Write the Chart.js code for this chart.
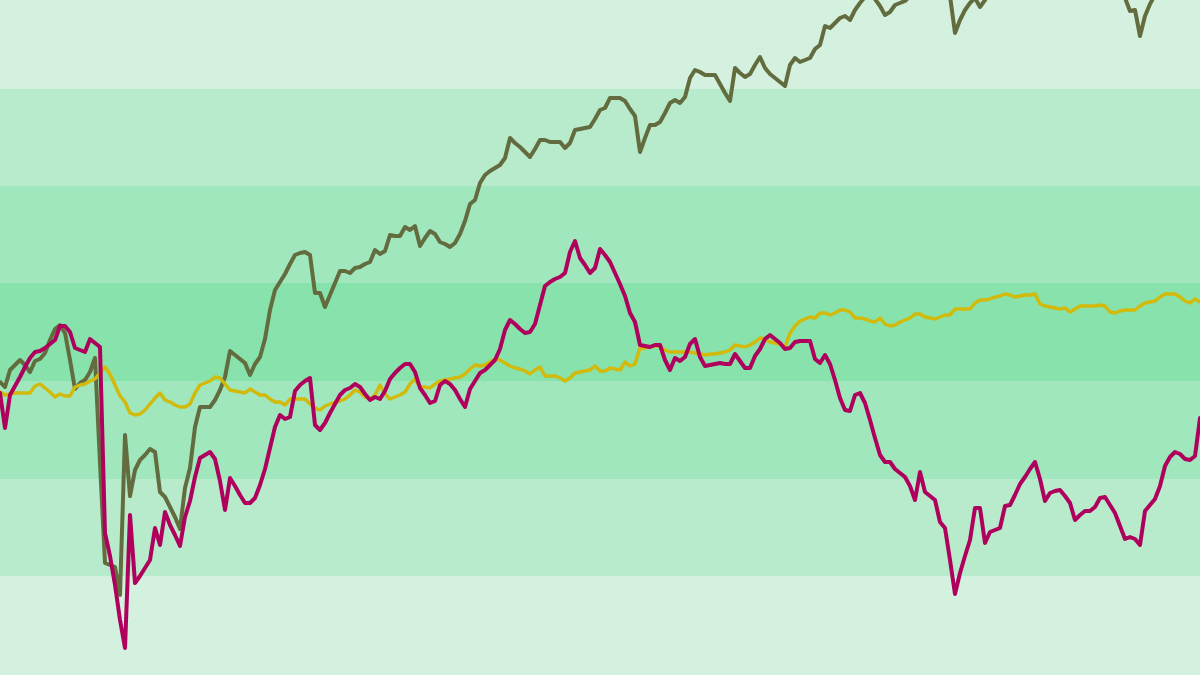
<!DOCTYPE html>
<html>
<head>
<meta charset="utf-8">
<script src="https://cdn.jsdelivr.net/npm/chart.js@4"></script>
<style>
  html, body { margin: 0; padding: 0; background: #d4f0de; }
  #wrap { width: 1200px; height: 675px; position: relative; }
</style>
</head>
<body>
<div id="wrap"><canvas id="lineChart"></canvas></div>
<script>
// cumulative change, one value per trading day
const olive = [
  0.8, 0.3, 2.0, 2.5, 3.0, 2.5, 1.8, 2.9, 3.1, 3.7,
  5.0, 6.1, 6.5, 5.7, 3.0, 0.1, 0.7, 1.0, 1.8, 3.2,
  -7.3, -17.3, -17.5, -17.7, -20.5, -4.5, -10.6, -8.0, -7.0, -6.5,
  -5.9, -6.2, -10.2, -10.7, -11.7, -12.7, -13.9, -9.8, -7.8, -3.7,
  -1.7, -1.7, -1.7, -1.0, 0.0, 1.3, 3.9, 3.5, 3.1, 2.7,
  1.5, 2.6, 3.3, 5.1, 8.0, 10.0, 10.8, 11.6, 12.6, 13.5,
  13.7, 13.8, 13.5, 9.7, 9.7, 8.3, 9.5, 10.7, 11.9, 11.9,
  11.7, 12.2, 12.3, 12.6, 12.8, 14.0, 13.6, 13.9, 15.5, 15.4,
  15.4, 16.3, 16.0, 16.4, 14.4, 15.2, 15.9, 15.6, 14.8, 14.6,
  14.3, 14.7, 15.6, 16.9, 18.6, 19.0, 20.7, 21.5, 21.9, 22.2,
  22.5, 23.2, 25.2, 24.7, 24.3, 23.8, 23.3, 24.1, 25.0, 25.0,
  24.8, 24.8, 24.8, 24.2, 24.7, 26.0, 26.1, 26.2, 26.3, 27.1,
  28.0, 28.2, 29.2, 29.2, 29.2, 28.9, 28.1, 27.4, 23.8, 25.2,
  26.5, 26.5, 26.8, 27.7, 28.7, 29.0, 28.7, 29.3, 31.2, 32.0,
  31.8, 31.5, 31.5, 31.5, 30.6, 29.7, 28.9, 32.2, 31.7, 31.3,
  31.6, 32.5, 33.3, 32.2, 31.6, 31.2, 30.8, 30.4, 32.5, 33.2,
  32.8, 33.0, 33.2, 34.1, 34.5, 36.4, 36.2, 36.7, 37.2, 37.4,
  37.0, 38.0, 38.7, 39.3, 39.8, 39.1, 38.4, 37.5, 37.8, 38.5,
  38.7, 38.9, 39.4, 40.0, 40.5, 41.0, 41.5, 41.2, 40.8, 40.5,
  39.4, 35.7, 37.0, 38.0, 38.7, 39.2, 38.3, 39.0, 40.0, 41.0,
  41.5, 42.0, 42.4, 42.7, 43.0, 43.2, 43.5, 43.4, 43.6, 43.8,
  44.0, 43.9, 43.7, 43.5, 43.2, 43.0, 42.8, 42.5, 42.1, 41.7,
  41.3, 40.8, 40.3, 39.9, 39.5, 39.2, 37.9, 38.0, 35.4, 37.4,
  38.6, 39.5, 40.2, 40.6, 41.0, 41.4, 41.7, 42.0, 42.3, 42.6,
  43.0
];

const magenta = [
  -0.3, -3.8, -0.5, 0.4, 1.3, 2.3, 3.2, 3.8, 3.9, 4.2,
  4.6, 5.0, 6.4, 6.4, 5.8, 4.2, 4.0, 3.8, 5.1, 4.7,
  4.3, -14.3, -16.6, -19.5, -23.0, -25.8, -12.5, -19.3, -18.6, -17.8,
  -17.0, -13.8, -15.5, -12.2, -13.5, -14.5, -15.6, -12.7, -11.1, -8.7,
  -6.8, -6.5, -6.2, -6.9, -9.1, -12.0, -8.8, -9.6, -10.5, -11.3,
  -11.3, -10.8, -9.5, -7.9, -5.8, -3.7, -2.5, -2.9, -2.7, -0.1,
  0.5, 0.9, 1.2, -3.5, -4.0, -3.3, -2.3, -1.4, -0.5, 0.0,
  0.2, 0.6, 0.3, -0.4, -1.0, -0.7, -0.9, -0.1, 1.1, 1.7,
  2.2, 2.6, 2.6, 1.8, 0.2, -0.5, -1.3, -1.1, 0.5, 0.9,
  0.6, 0.0, -0.9, -1.7, 0.1, 0.9, 1.7, 2.0, 2.5, 3.0,
  4.1, 6.0, 7.0, 6.6, 6.1, 5.7, 5.8, 6.6, 8.5, 10.4,
  10.8, 11.1, 11.3, 11.7, 13.8, 14.9, 13.2, 12.5, 11.7, 12.2,
  14.1, 13.5, 12.8, 11.7, 10.6, 9.4, 7.7, 6.8, 4.5, 4.4,
  4.3, 4.5, 4.5, 3.0, 2.0, 3.2, 2.9, 3.3, 4.6, 5.1,
  3.3, 2.4, 2.5, 2.6, 2.7, 2.6, 2.6, 3.6, 2.9, 2.2,
  2.2, 3.4, 4.1, 5.1, 5.5, 5.1, 4.7, 4.1, 4.2, 4.8,
  4.9, 4.9, 4.9, 3.1, 2.7, 3.5, 2.6, 1.0, -0.8, -2.0,
  -2.1, -0.5, -0.3, -1.3, -3.0, -4.8, -6.5, -7.2, -7.2, -7.9,
  -8.3, -8.7, -9.6, -11.0, -8.2, -10.2, -10.6, -11.0, -13.2, -13.8,
  -17.0, -20.4, -18.3, -16.6, -15.0, -11.8, -11.8, -15.3, -14.2, -14.0,
  -13.8, -11.6, -11.5, -10.5, -9.4, -8.7, -7.9, -7.2, -8.9, -11.1,
  -10.3, -10.1, -10.0, -10.6, -11.3, -13.0, -12.5, -12.1, -12.1, -11.7,
  -10.8, -10.7, -11.5, -12.3, -13.6, -14.9, -14.7, -14.9, -15.5, -12.1,
  -11.5, -10.9, -9.6, -7.6, -6.7, -6.2, -6.4, -6.9, -7.0, -6.6,
  -2.8
];

const yellow = [
  -0.2, -0.5, -0.4, -0.3, -0.3, -0.3, -0.3, 0.4, 0.6, 0.2,
  -0.2, -0.7, -0.4, -0.6, -0.6, 0.3, 0.5, 0.6, 0.9, 1.1,
  1.7, 2.3, 1.6, 0.5, -0.6, -1.2, -2.3, -2.5, -2.4, -2.0,
  -1.4, -0.8, -0.3, -1.0, -1.2, -1.5, -1.7, -1.7, -1.4, -0.3,
  0.5, 0.7, 0.9, 1.3, 1.2, 0.6, 0.0, -0.1, -0.2, -0.3,
  0.1, -0.2, -0.5, -0.5, -0.9, -1.2, -1.2, -1.5, -0.9, -0.9,
  -0.9, -0.9, -1.4, -1.8, -2.0, -1.6, -1.4, -1.2, -1.1, -0.9,
  -0.5, 0.0, -0.2, -0.7, -0.9, -0.5, 0.5, -0.4, -0.9, -0.7,
  -0.5, -0.2, 0.6, 1.1, 0.3, 0.3, 0.2, 0.6, 0.9, 1.0,
  1.1, 1.2, 1.3, 1.6, 2.1, 2.5, 2.4, 2.5, 2.8, 3.1,
  3.0, 2.7, 2.4, 2.2, 2.1, 1.9, 1.6, 2.0, 2.3, 1.4,
  1.4, 1.4, 1.2, 0.9, 1.2, 1.7, 1.8, 1.9, 2.0, 2.4,
  1.9, 1.9, 2.2, 2.1, 2.0, 2.8, 2.4, 2.6, 4.2, 4.2,
  4.3, 4.4, 4.4, 4.0, 3.8, 3.8, 3.8, 3.8, 3.8, 3.7,
  3.6, 3.5, 3.6, 3.6, 3.7, 3.8, 4.0, 4.5, 4.4, 4.3,
  4.5, 4.8, 5.2, 5.1, 4.8, 4.7, 4.6, 4.3, 5.7, 6.4,
  6.9, 7.1, 7.3, 7.2, 7.7, 7.7, 7.5, 7.7, 8.0, 8.0,
  7.8, 7.2, 7.2, 7.1, 6.9, 6.8, 7.2, 6.6, 6.4, 6.5,
  6.8, 7.0, 7.2, 7.6, 7.6, 7.3, 7.2, 7.1, 7.3, 7.5,
  7.5, 8.1, 8.1, 8.1, 8.1, 8.7, 9.0, 9.0, 9.1, 9.3,
  9.4, 9.6, 9.5, 9.3, 9.4, 9.5, 9.5, 9.6, 8.6, 8.4,
  8.3, 8.2, 8.1, 8.2, 7.8, 8.1, 8.4, 8.4, 8.4, 8.4,
  8.5, 8.4, 7.8, 7.7, 7.9, 8.0, 8.0, 8.0, 8.4, 8.7,
  8.8, 8.9, 9.3, 9.6, 9.6, 9.6, 9.3, 8.9, 8.7, 9.1,
  8.8
];

const days = olive.map((v, i) => i + 1);

// horizontal shading bands (value edges, top to bottom)
const bandEdges = [39.0, 30.1, 20.4, 10.7, 0.9, -8.9, -18.6, -28.5];
const bandColors = ['#d4f0de', '#b8ebcb', '#a1e7bd', '#88e2ab', '#a1e7bd', '#b8ebcb', '#d4f0de'];

const bandsPlugin = {
  id: 'bands',
  beforeDraw(chart) {
    const { ctx, chartArea, scales } = chart;
    ctx.save();
    for (let i = 0; i < bandColors.length; i++) {
      const top = scales.y.getPixelForValue(bandEdges[i]);
      const bottom = scales.y.getPixelForValue(bandEdges[i + 1]);
      ctx.fillStyle = bandColors[i];
      ctx.fillRect(chartArea.left, top, chartArea.right - chartArea.left, bottom - top);
    }
    ctx.restore();
  }
};

new Chart(document.getElementById('lineChart'), {
  type: 'line',
  data: {
    labels: days,
    datasets: [
      { data: magenta, borderColor: '#b0005e', borderWidth: 4 },
      { data: yellow, borderColor: '#d2b90a', borderWidth: 3.5 },
      { data: olive, borderColor: '#626c3f', borderWidth: 4 },
    ]
  },
  options: {
    responsive: true,
    maintainAspectRatio: false,
    animation: false,
    layout: { padding: 0 },
    elements: {
      point: { radius: 0 },
      line: { tension: 0, borderJoinStyle: 'round', borderCapStyle: 'round' }
    },
    scales: {
      x: { display: false },
      y: { display: false, min: -28.5, max: 39.0 }
    },
    plugins: {
      legend: { display: false },
      tooltip: { enabled: false }
    }
  },
  plugins: [bandsPlugin]
});
</script>
</body>
</html>
